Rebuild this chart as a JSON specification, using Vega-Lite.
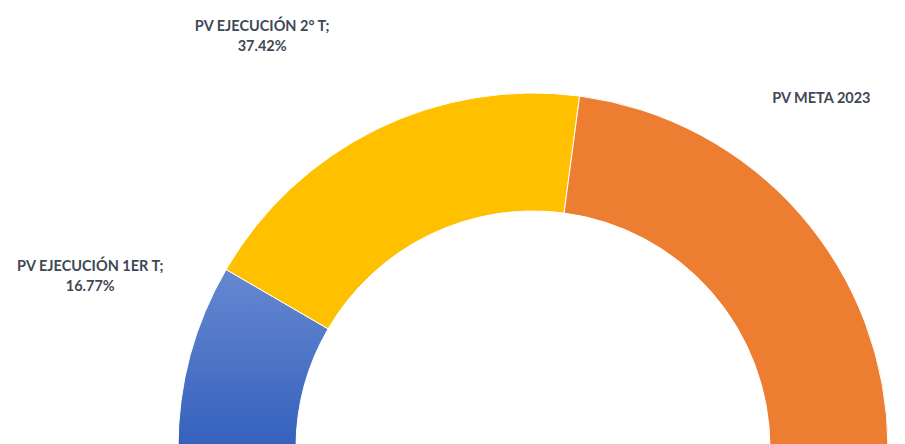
{
  "$schema": "https://vega.github.io/schema/vega-lite/v6.json",
  "width": 905,
  "height": 444,
  "autosize": "none",
  "padding": 0,
  "background": "white",
  "config": {"view": {"stroke": null}},
  "data": {
    "values": [
      {"orden": 1, "cat": "PV EJECUCIÓN 1ER T", "valor": 16.77, "linea1": "PV EJECUCIÓN 1ER T;", "linea2": "16.77%"},
      {"orden": 2, "cat": "PV EJECUCIÓN 2° T", "valor": 37.42, "linea1": "PV EJECUCIÓN 2° T;", "linea2": "37.42%"},
      {"orden": 3, "cat": "PV META 2023", "valor": 45.81, "linea1": "PV META 2023", "linea2": ""}
    ]
  },
  "encoding": {
    "theta": {"field": "valor", "type": "quantitative", "stack": true, "scale": {"range": [-1.5707963, 1.5707963]}},
    "order": {"field": "orden", "type": "quantitative"}
  },
  "layer": [
    {
      "mark": {"type": "arc", "x": 533, "y": 448, "radius": 355, "radius2": 237, "stroke": "white", "strokeWidth": 1},
      "encoding": {
        "color": {
          "condition": {
            "test": "datum.orden === 1",
            "value": {"gradient": "linear", "x1": 0, "y1": 0, "x2": 0, "y2": 1, "stops": [{"offset": 0, "color": "#6688D0"}, {"offset": 1, "color": "#3461BD"}]}
          },
          "field": "cat",
          "type": "nominal",
          "legend": null,
          "scale": {
            "domain": ["PV EJECUCIÓN 1ER T", "PV EJECUCIÓN 2° T", "PV META 2023"],
            "range": ["#4472C4", "#FFC000", "#ED7D31"]
          }
        }
      }
    },
    {
      "mark": {"type": "text", "x": 533, "y": 448, "radius": 297, "dx": -156, "dy": -104, "font": "Lato", "fontWeight": "bold", "fontSize": 14.5, "fill": "#3F4856", "align": "center", "baseline": "middle"},
      "encoding": {
        "text": {"condition": {"test": "datum.orden === 1", "field": "linea1"}, "value": ""}
      }
    },
    {
      "mark": {"type": "text", "x": 533, "y": 448, "radius": 297, "dx": -156, "dy": -84, "font": "Lato", "fontWeight": "bold", "fontSize": 14.5, "fill": "#3F4856", "align": "center", "baseline": "middle"},
      "encoding": {
        "text": {"condition": {"test": "datum.orden === 1", "field": "linea2"}, "value": ""}
      }
    },
    {
      "mark": {"type": "text", "x": 533, "y": 448, "radius": 297, "dx": -140, "dy": -154, "font": "Lato", "fontWeight": "bold", "fontSize": 14.5, "fill": "#3F4856", "align": "center", "baseline": "middle"},
      "encoding": {
        "text": {"condition": {"test": "datum.orden === 2", "field": "linea1"}, "value": ""}
      }
    },
    {
      "mark": {"type": "text", "x": 533, "y": 448, "radius": 297, "dx": -140, "dy": -134, "font": "Lato", "fontWeight": "bold", "fontSize": 14.5, "fill": "#3F4856", "align": "center", "baseline": "middle"},
      "encoding": {
        "text": {"condition": {"test": "datum.orden === 2", "field": "linea2"}, "value": ""}
      }
    },
    {
      "mark": {"type": "text", "x": 533, "y": 448, "radius": 297, "dx": 65, "dy": -153, "font": "Lato", "fontWeight": "bold", "fontSize": 14.5, "fill": "#3F4856", "align": "center", "baseline": "middle"},
      "encoding": {
        "text": {"condition": {"test": "datum.orden === 3", "field": "linea1"}, "value": ""}
      }
    }
  ]
}
